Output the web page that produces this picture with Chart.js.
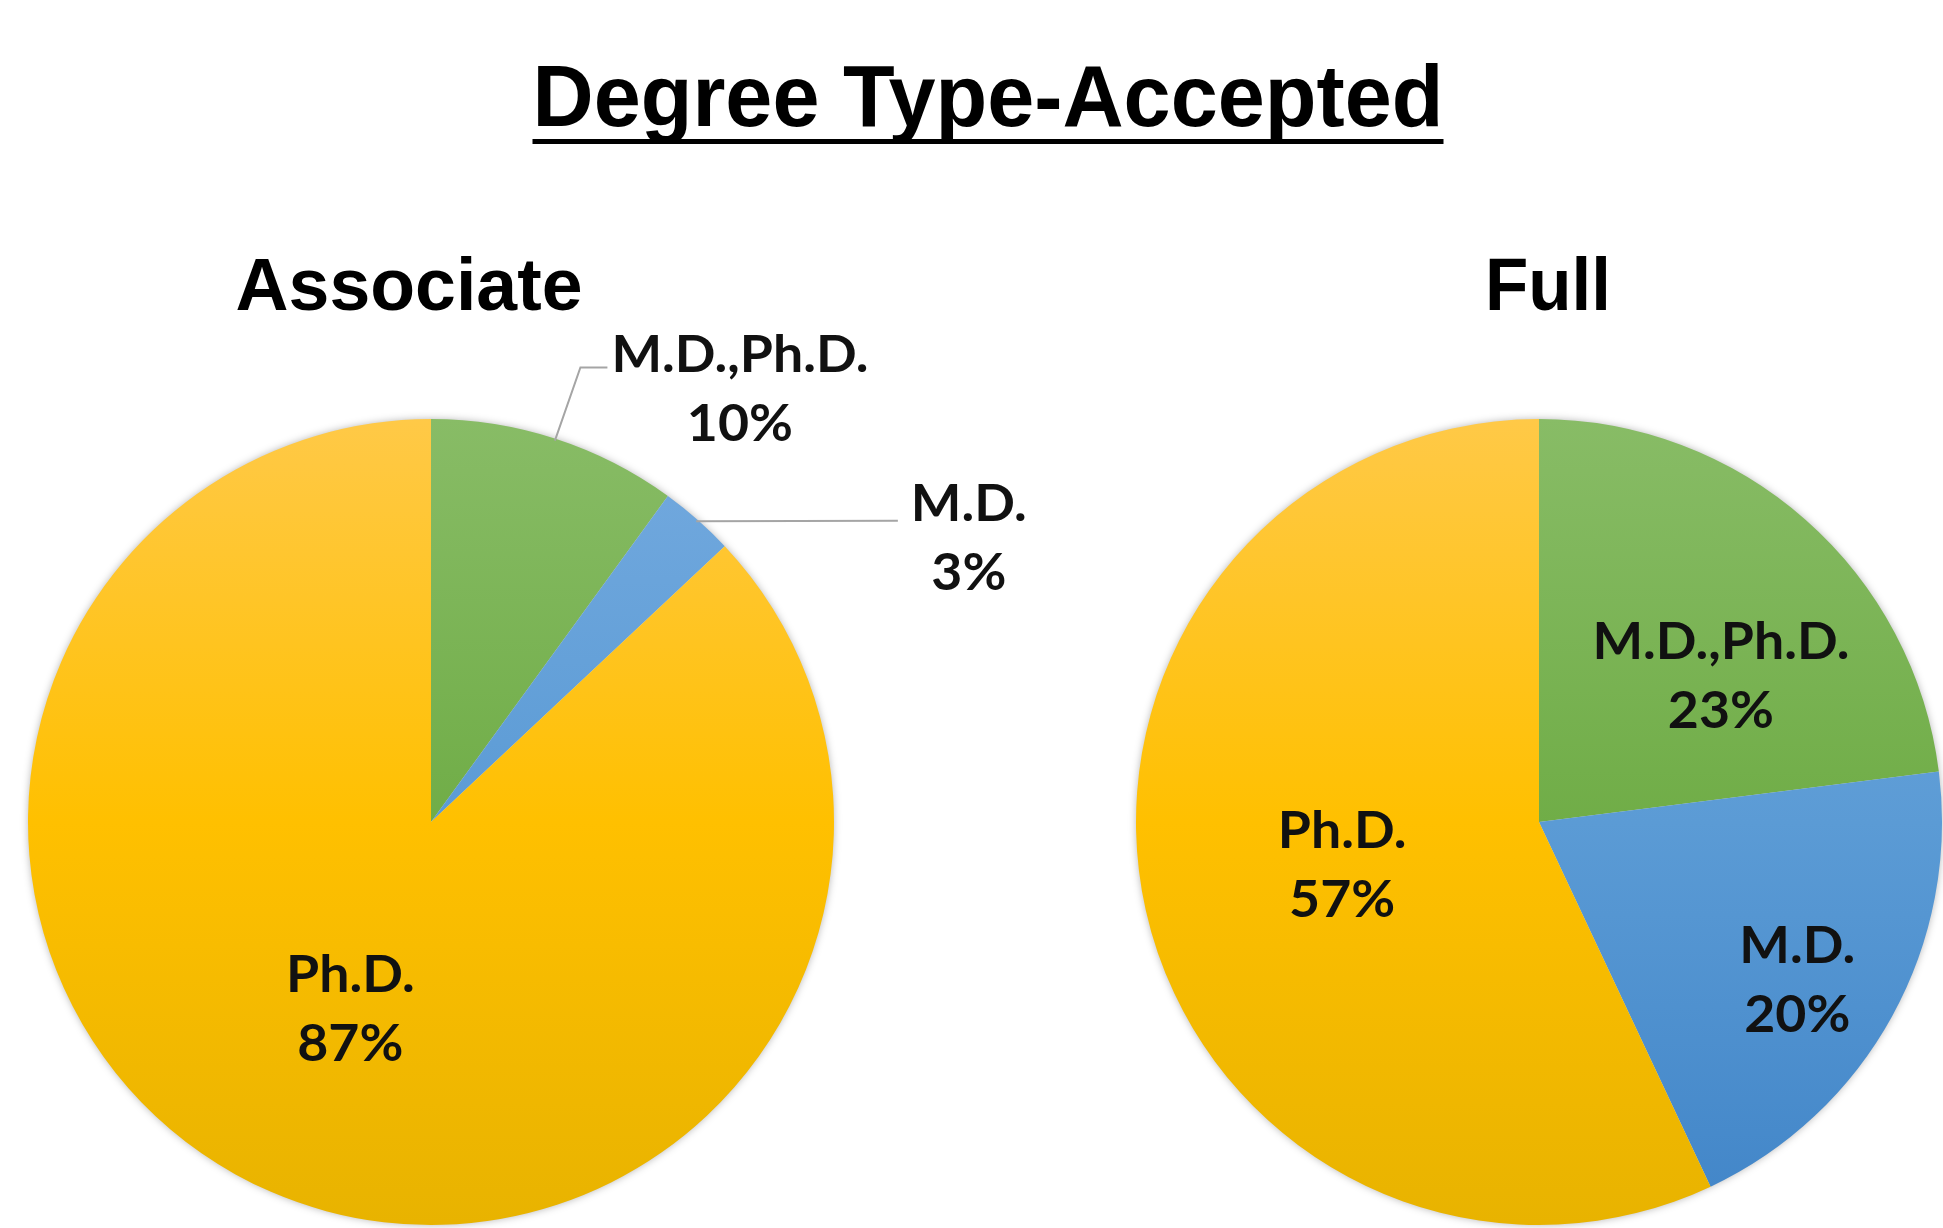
<!DOCTYPE html>
<html><head><meta charset="utf-8">
<script src="https://cdn.jsdelivr.net/npm/chart.js@4/dist/chart.umd.min.js"></script>
<style>
html,body{margin:0;padding:0;background:#fff;overflow:hidden}
#wrap{position:relative;width:1943px;height:1228px}
canvas{position:absolute;left:0;top:0}
</style></head>
<body><div id="wrap"><canvas id="c1" width="1943" height="1228"></canvas><canvas id="c2" width="1943" height="1228"></canvas></div>
<script>
// ---- data ----
const mainTitle = "Degree Type-Accepted";
const chartTitles = ["Associate", "Full"];
const categories = ["M.D.,Ph.D.", "M.D.", "Ph.D."];
const associateValues = [10, 3, 87];
const fullValues = [23, 20, 57];

// ---- style ----
const gradStops = [
  ["#88BC66", "#70AD47", "#5C9C30"],   // green
  ["#74AADF", "#5B9BD5", "#4185C8"],   // blue
  ["#FFC947", "#FFC000", "#E8B300"]    // gold
];
const LABEL_FONT = "Lato";
const LABEL_SIZE = 51;
const LINE_GAP = 69;

function sliceFill(ctx) {
  const i = ctx.dataIndex;
  const chart = ctx.chart;
  const area = chart.chartArea;
  if (!area || i === undefined) return gradStops[i || 0][1];
  const g = chart.ctx.createLinearGradient(0, area.top, 0, area.bottom);
  g.addColorStop(0, gradStops[i][0]);
  g.addColorStop(0.5, gradStops[i][1]);
  g.addColorStop(1, gradStops[i][2]);
  return g;
}

function drawScaledText(ctx, text, x, y, font, targetWidth) {
  ctx.save();
  ctx.font = font;
  const w = ctx.measureText(text).width;
  const sx = targetWidth ? targetWidth / w : 1;
  ctx.translate(x, y);
  ctx.scale(sx, 1);
  ctx.textAlign = "center";
  ctx.textBaseline = "alphabetic";
  ctx.fillStyle = "#000";
  ctx.fillText(text, 0, 0);
  ctx.restore();
  return w * sx;
}

const shadowPlugin = {
  id: "pieShadow",
  beforeDatasetsDraw(chart) {
    const arc = chart.getDatasetMeta(0).data[0];
    if (!arc) return;
    const ctx = chart.ctx;
    ctx.save();
    ctx.shadowColor = "rgba(0,0,0,0.35)";
    ctx.shadowBlur = 9;
    ctx.beginPath();
    ctx.arc(arc.x, arc.y, arc.outerRadius - 1, 0, Math.PI * 2);
    ctx.fillStyle = "#ddd";
    ctx.fill();
    ctx.restore();
  }
};

const labelPlugin = {
  id: "sliceLabels",
  afterDatasetsDraw(chart, args, opts) {
    const ctx = chart.ctx;
    const meta = chart.getDatasetMeta(0);
    const values = chart.data.datasets[0].data;
    ctx.save();
    ctx.font = `700 ${LABEL_SIZE}px ${LABEL_FONT}`;
    const sx = opts.refWidth / ctx.measureText(categories[0]).width;
    meta.data.forEach((arc, i) => {
      const spec = opts.specs[i];
      const mid = (arc.startAngle + arc.endAngle) / 2;
      const a = mid + spec.da * Math.PI / 180;
      const r = arc.outerRadius * spec.rf;
      const ax = arc.x + Math.cos(a) * r;
      const ay = arc.y + Math.sin(a) * r;
      const b1 = ay - LINE_GAP / 2 + 18;
      const b2 = ay + LINE_GAP / 2 + 18;
      const l1 = chart.data.labels[i];
      const l2 = values[i] + "%";
      const w1 = ctx.measureText(l1).width * sx;
      if (spec.leader) {
        const sxp = arc.x + Math.cos(mid) * (arc.outerRadius - 2);
        const syp = arc.y + Math.sin(mid) * (arc.outerRadius - 2);
        const ex = ax - w1 / 2 - spec.leader.gap;
        const ey = b1 - spec.leader.dy;
        ctx.beginPath();
        ctx.moveTo(sxp, syp);
        if (spec.leader.elbow) ctx.lineTo(ex - spec.leader.elbow, ey);
        ctx.lineTo(ex, ey);
        ctx.strokeStyle = "#A5A5A5";
        ctx.lineWidth = 2;
        ctx.stroke();
      }
      ctx.fillStyle = "#111";
      ctx.textAlign = "center";
      ctx.textBaseline = "alphabetic";
      [[l1, b1], [l2, b2]].forEach(([t, by]) => {
        ctx.save();
        ctx.translate(ax, by);
        ctx.scale(sx, 1);
        ctx.fillText(t, 0, 0);
        ctx.restore();
      });
    });
    ctx.restore();
  }
};

const titlePlugin = {
  id: "titles",
  afterDraw(chart, args, opts) {
    const ctx = chart.ctx;
    const arc = chart.getDatasetMeta(0).data[0];
    drawScaledText(ctx, opts.text, arc.x + opts.dx, 310, "bold 74px 'Liberation Sans'", opts.width);
    if (opts.main) {
      const cx = 988;
      const w = drawScaledText(ctx, mainTitle, cx, 126, "bold 87px 'Liberation Sans'", 911);
      ctx.save();
      ctx.fillStyle = "#000";
      ctx.fillRect(cx - w / 2, 139, w, 5);
      ctx.restore();
    }
  }
};

function makeChart(id, values, pad, specs, titleOpts) {
  return new Chart(document.getElementById(id), {
    type: "pie",
    data: {
      labels: categories,
      datasets: [{
        data: values,
        backgroundColor: sliceFill,
        borderWidth: 0,
        hoverOffset: 0
      }]
    },
    options: {
      responsive: false,
      animation: false,
      devicePixelRatio: 1,
      layout: { padding: pad },
      plugins: {
        legend: { display: false },
        tooltip: { enabled: false },
        title: { display: false },
        sliceLabels: { specs: specs, refWidth: 257 },
        titles: titleOpts
      }
    },
    plugins: [shadowPlugin, labelPlugin, titlePlugin]
  });
}

makeChart("c1", associateValues,
  { left: 28, right: 1109, top: 419, bottom: 3 },
  [
    { rf: 1.32, da: 17.5, leader: { gap: 4, dy: 5, elbow: 27 } },
    { rf: 1.51, da: 20.7, leader: { gap: 13, dy: 0 } },
    { rf: 0.504, da: 0 }
  ],
  { text: chartTitles[0], dx: -22, width: 347, main: true });

makeChart("c2", fullValues,
  { left: 1136, right: 1, top: 419, bottom: 3 },
  [
    { rf: 0.58, da: 9.7 },
    { rf: 0.75, da: 2.5 },
    { rf: 0.50, da: 0.3 }
  ],
  { text: chartTitles[1], dx: 9, width: 126, main: false });
</script>
</body></html>
